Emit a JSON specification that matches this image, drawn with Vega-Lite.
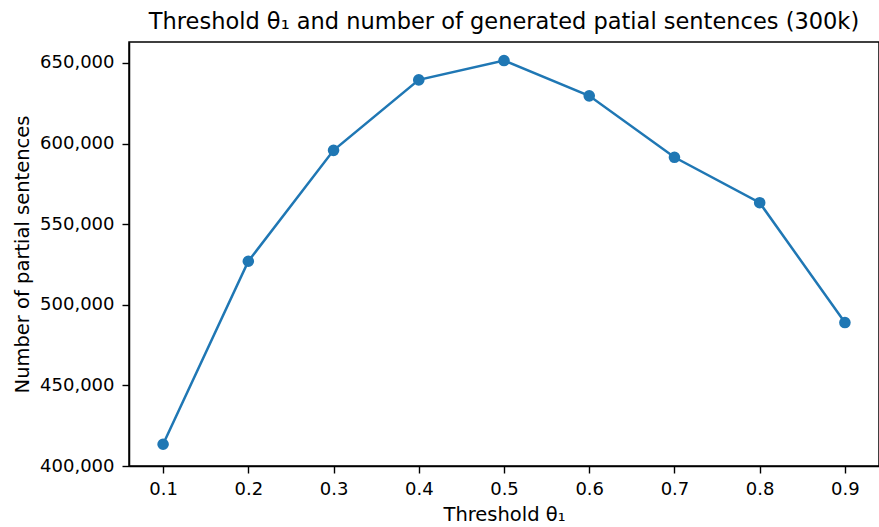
{
  "$schema": "https://vega.github.io/schema/vega-lite/v6.json",
  "width": 750,
  "height": 424,
  "autosize": {"type": "none"},
  "padding": {"left": 129, "top": 42, "right": 0, "bottom": 61},
  "background": "white",
  "config": {
    "font": "DejaVu Sans",
    "view": {"stroke": "#000", "strokeWidth": 1.5},
    "axis": {
      "grid": false,
      "domain": true,
      "domainColor": "#000",
      "domainWidth": 1.5,
      "tickColor": "#000",
      "tickWidth": 1.4,
      "tickSize": 7,
      "labelFont": "DejaVu Sans",
      "labelFontSize": 18,
      "labelColor": "#000",
      "titleFont": "DejaVu Sans",
      "titleFontSize": 19.5,
      "titleFontWeight": "normal",
      "titleColor": "#000"
    }
  },
  "title": {
    "text": "Threshold θ₁ and number of generated patial sentences (300k)",
    "font": "DejaVu Sans",
    "fontSize": 22.5,
    "fontWeight": "normal",
    "color": "#000",
    "anchor": "middle",
    "offset": 9
  },
  "data": {
    "values": [
      {"threshold": 0.1, "count": 413500},
      {"threshold": 0.2, "count": 527000},
      {"threshold": 0.3, "count": 595800},
      {"threshold": 0.4, "count": 639500},
      {"threshold": 0.5, "count": 651500},
      {"threshold": 0.6, "count": 629600},
      {"threshold": 0.7, "count": 591500},
      {"threshold": 0.8, "count": 563300},
      {"threshold": 0.9, "count": 489000}
    ]
  },
  "encoding": {
    "x": {
      "field": "threshold",
      "type": "quantitative",
      "scale": {"domain": [0.06, 0.94], "nice": false, "zero": false},
      "axis": {
        "title": "Threshold θ₁",
        "values": [0.1, 0.2, 0.3, 0.4, 0.5, 0.6, 0.7, 0.8, 0.9],
        "format": ".1f",
        "labelPadding": 7,
        "titlePadding": 7
      }
    },
    "y": {
      "field": "count",
      "type": "quantitative",
      "scale": {"domain": [400000, 663000], "nice": false, "zero": false},
      "axis": {
        "title": "Number of partial sentences",
        "values": [400000, 450000, 500000, 550000, 600000, 650000],
        "format": ",d",
        "labelPadding": 8,
        "titlePadding": 7
      }
    }
  },
  "layer": [
    {"mark": {"type": "line", "color": "#1f77b4", "strokeWidth": 2.5}},
    {"mark": {"type": "point", "filled": true, "color": "#1f77b4", "size": 135, "opacity": 1}}
  ]
}
